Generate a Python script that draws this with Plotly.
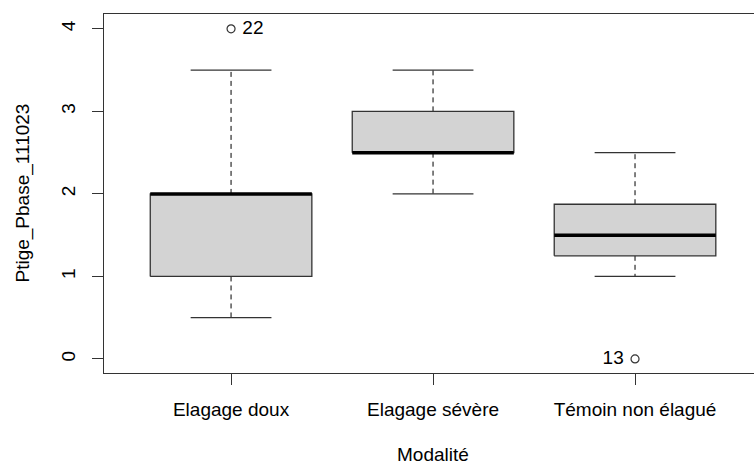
import plotly.graph_objects as go

# Summary statistics per treatment (Tukey boxplot)
categories = ["Elagage doux", "Elagage sévère", "Témoin non élagué"]
lower_whisker = [0.5, 2.0, 1.0]
q1 = [1.0, 2.5, 1.25]
median = [2.0, 2.5, 1.5]
q3 = [2.0, 3.0, 1.875]
upper_whisker = [3.5, 3.5, 2.5]

# Outlying observations: group index (1-based), value, observation id
outlier_group = [1, 3]
outlier_value = [4.0, 0.0]
outlier_id = ["22", "13"]
outlier_text_pos = ["middle right", "middle left"]

y_ticks = [0, 1, 2, 3, 4]

FONT = "Liberation Sans, Arial, sans-serif"
FS = 19
EDGE = "#333333"
BOX_HALF = 0.4
CAP_HALF = 0.2

fig = go.Figure()

for i, name in enumerate(categories):
    p = i + 1
    x0, x1 = p - BOX_HALF, p + BOX_HALF
    # whiskers (dashed)
    fig.add_trace(go.Scatter(
        x=[p, p, None, p, p],
        y=[q3[i], upper_whisker[i], None, q1[i], lower_whisker[i]],
        mode="lines", line=dict(color="black", width=1, dash="5px,4px"),
        hoverinfo="skip", showlegend=False))
    # staples
    fig.add_trace(go.Scatter(
        x=[p - CAP_HALF, p + CAP_HALF, None, p - CAP_HALF, p + CAP_HALF],
        y=[upper_whisker[i], upper_whisker[i], None, lower_whisker[i], lower_whisker[i]],
        mode="lines", line=dict(color=EDGE, width=1.3),
        hoverinfo="skip", showlegend=False))
    # box
    fig.add_trace(go.Scatter(
        x=[x0, x1, x1, x0, x0],
        y=[q1[i], q1[i], q3[i], q3[i], q1[i]],
        mode="lines", fill="toself", fillcolor="#d3d3d3",
        line=dict(color=EDGE, width=1.3),
        hoverinfo="skip", showlegend=False))
    # median
    fig.add_trace(go.Scatter(
        x=[x0, x1], y=[median[i], median[i]],
        mode="lines", line=dict(color="black", width=3.5),
        hoverinfo="skip", showlegend=False))

# outliers with their identifiers
fig.add_trace(go.Scatter(
    x=outlier_group, y=outlier_value,
    mode="markers+text",
    marker=dict(symbol="circle-open", size=8, color=EDGE, line=dict(width=1.2)),
    text=[" " + t + " " for t in outlier_id],
    textposition=outlier_text_pos,
    textfont=dict(family=FONT, size=FS, color="black"),
    hoverinfo="skip", showlegend=False))

fig.update_layout(
    width=754, height=466,
    margin=dict(l=104, r=0, t=14, b=93),
    paper_bgcolor="white", plot_bgcolor="white",
    font=dict(family=FONT, size=FS, color="black"),
    showlegend=False,
    xaxis=dict(
        range=[0.371, 3.589], tickmode="array", tickvals=[1, 2, 3], ticktext=categories,
        ticks="outside", ticklen=11, tickwidth=1.3, tickcolor=EDGE,
        showline=True, linecolor=EDGE, linewidth=1.3, mirror=True,
        showgrid=False, zeroline=False, ticklabelstandoff=8,
        tickfont=dict(family=FONT, size=FS, color="black"),
    ),
    yaxis=dict(
        range=[-0.17, 4.18], tickmode="array", tickvals=y_ticks,
        ticktext=[str(v) for v in y_ticks], tickangle=-90,
        ticks="outside", ticklen=11, tickwidth=1.3, tickcolor=EDGE,
        showline=True, linecolor=EDGE, linewidth=1.3,
        showgrid=False, zeroline=False, ticklabelstandoff=9,
        tickfont=dict(family=FONT, size=FS, color="black"),
    ),
    annotations=[
        dict(text="Ptige_Pbase_111023", xref="paper", yref="paper",
             x=(22 - 104) / 650, y=0.5, xanchor="center", yanchor="middle",
             textangle=-90, showarrow=False,
             font=dict(family=FONT, size=FS, color="black")),
        dict(text="Modalité", xref="paper", yref="paper",
             x=(433 - 104) / 650, y=-(454 - 373) / 359, xanchor="center", yanchor="middle",
             showarrow=False, font=dict(family=FONT, size=FS, color="black")),
    ],
)

fig.write_html("out.html")
